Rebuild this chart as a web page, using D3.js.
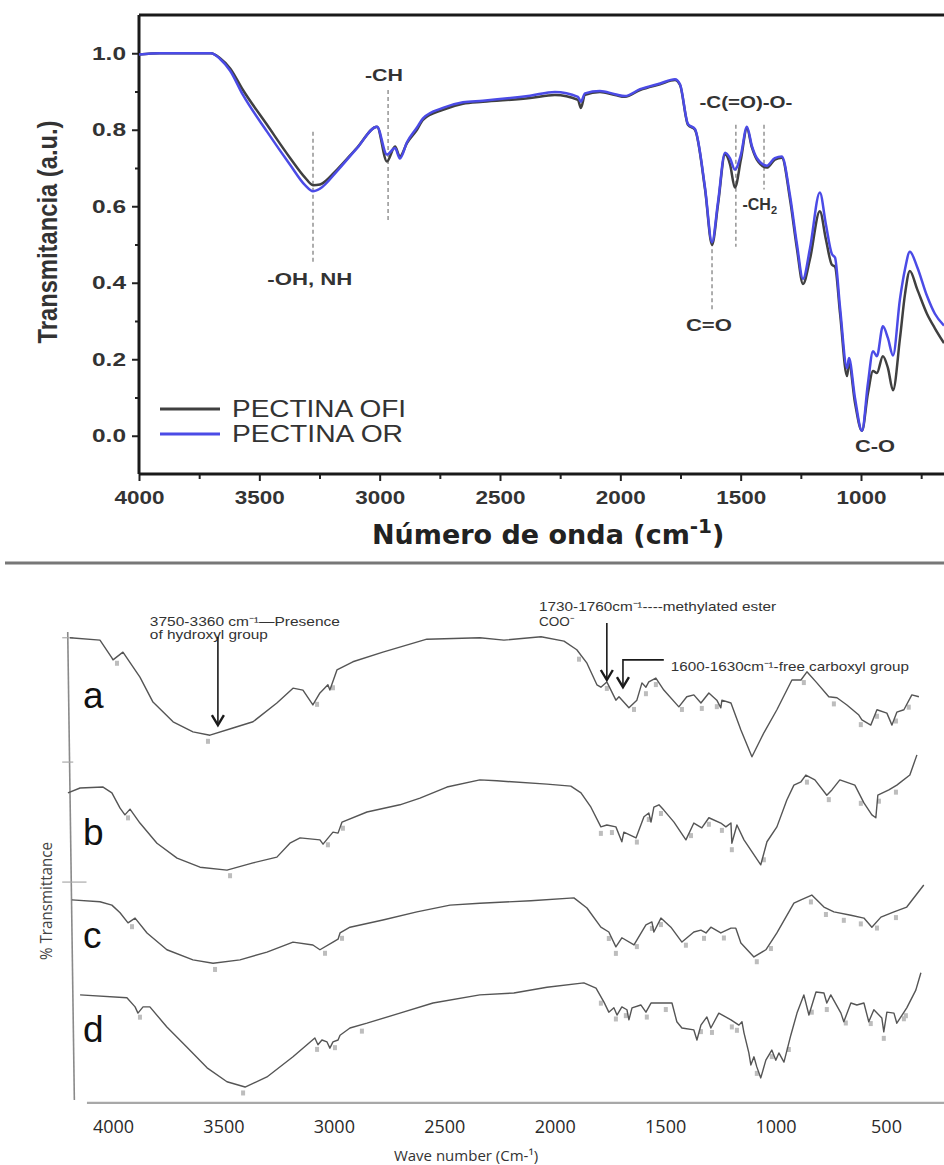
<!DOCTYPE html>
<html>
<head>
<meta charset="utf-8">
<script src="https://cdn.jsdelivr.net/npm/d3@7"></script>
<style>
  body { margin: 0; background: #fff; }
  svg { display: block; }
</style>
</head>
<body>
<div id="chart"></div>
<script>
/**********************/
/******* data         */
/**********************/

// top panel: [wavenumber cm-1, transmittance a.u.]
const pectinaOFI = [[4000,0.997],[3913,1.0],[3701,1.0],[3663,0.987],[3622,0.961],[3568,0.904],[3468,0.813],[3373,0.727],[3310,0.675],[3277,0.655],[3248,0.657],[3177,0.696],[3094,0.753],[3011,0.808],[2970,0.717],[2936,0.756],[2916,0.730],[2886,0.766],[2845,0.800],[2820,0.826],[2737,0.852],[2654,0.868],[2571,0.873],[2375,0.883],[2272,0.891],[2176,0.878],[2164,0.857],[2147,0.891],[2085,0.899],[2022,0.891],[1981,0.886],[1918,0.904],[1835,0.919],[1773,0.930],[1752,0.917],[1719,0.813],[1690,0.800],[1648,0.644],[1619,0.499],[1594,0.605],[1565,0.735],[1544,0.709],[1524,0.649],[1499,0.722],[1474,0.803],[1453,0.753],[1433,0.722],[1391,0.701],[1358,0.722],[1329,0.727],[1295,0.618],[1266,0.488],[1241,0.397],[1212,0.462],[1171,0.587],[1146,0.514],[1121,0.447],[1108,0.442],[1087,0.319],[1058,0.156],[1050,0.190],[1025,0.086],[996,0.013],[971,0.112],[950,0.169],[934,0.164],[909,0.208],[888,0.177],[867,0.119],[838,0.255],[817,0.371],[797,0.431],[767,0.384],[726,0.319],[693,0.281],[655,0.242]];

const pectinaOR = [[4000,0.997],[3913,1.0],[3701,1.0],[3663,0.985],[3622,0.955],[3568,0.891],[3468,0.795],[3373,0.709],[3310,0.655],[3277,0.639],[3248,0.646],[3177,0.692],[3094,0.752],[3011,0.808],[2970,0.735],[2936,0.752],[2916,0.725],[2886,0.768],[2845,0.806],[2820,0.830],[2737,0.857],[2654,0.872],[2571,0.876],[2375,0.889],[2272,0.899],[2176,0.886],[2164,0.873],[2147,0.895],[2085,0.901],[2022,0.893],[1981,0.888],[1918,0.906],[1835,0.921],[1773,0.932],[1752,0.919],[1719,0.815],[1690,0.802],[1648,0.648],[1619,0.506],[1594,0.612],[1565,0.740],[1544,0.725],[1524,0.696],[1499,0.735],[1474,0.808],[1453,0.757],[1433,0.726],[1391,0.706],[1358,0.726],[1329,0.730],[1295,0.628],[1266,0.500],[1241,0.410],[1212,0.490],[1171,0.636],[1146,0.553],[1121,0.475],[1108,0.466],[1087,0.335],[1058,0.177],[1050,0.203],[1025,0.099],[996,0.013],[971,0.138],[950,0.221],[934,0.208],[909,0.286],[888,0.255],[867,0.210],[838,0.358],[817,0.436],[797,0.481],[767,0.442],[726,0.366],[693,0.319],[655,0.288]];

const topSeries = ["PECTINA OFI", "PECTINA OR"];
const topColors = ["#404040", "#4b4be6"];
const topXTicks = [4000, 3500, 3000, 2500, 2000, 1500, 1000];
const topXMinor = [3750, 3250, 2750, 2250, 1750, 1250, 750];
const topYTicks = [0.0, 0.2, 0.4, 0.6, 0.8, 1.0];
const topYMinor = [0.1, 0.3, 0.5, 0.7, 0.9];

// band assignments: dashed guide [wn, from, to] and its label [wn, value]
const topGuides = [[3277, 0.795, 0.455], [2965, 0.904, 0.558], [1619, 0.506, 0.325], [1520, 0.813, 0.494], [1403, 0.813, 0.644]];
const topLabels = [
    { text: "-OH, NH", wn: 3290, v: 0.395, w: 85 },
    { text: "-CH", wn: 2982, v: 0.927, w: 38 },
    { text: "-C(=O)-O-", wn: 1478, v: 0.857, w: 93 },
    { text: "-CH", sub: "2", wn: 1399, v: 0.590, w: 45 },
    { text: "C=O", wn: 1632, v: 0.275, w: 46 },
    { text: "C-O", wn: 942, v: -0.042, w: 40 }
];

// bottom panel: stacked spectra [wavenumber, % transmittance (offset stack)]
const traceA = [[4195,96.3],[4059,95.8],[4005,92.1],[4000,91.7],[3955,93.3],[3878,88.1],[3819,82.9],[3728,78.8],[3638,76.7],[3561,76.0],[3457,77.5],[3366,78.8],[3258,82.7],[3185,85.8],[3140,85.4],[3095,82.3],[3063,84.8],[3027,86.5],[3018,85.4],[2986,89.6],[2914,91.3],[2778,93.3],[2579,96.0],[2339,96.3],[2230,95.8],[2062,96.5],[1958,95.6],[1900,93.8],[1854,91.0],[1809,86.5],[1791,86.0],[1764,87.1],[1723,83.3],[1709,84.0],[1664,81.7],[1628,83.3],[1605,86.9],[1587,86.0],[1574,87.1],[1542,87.9],[1506,85.4],[1438,81.9],[1402,84.0],[1370,84.4],[1338,82.7],[1302,84.8],[1266,83.3],[1248,81.7],[1243,83.3],[1202,82.7],[1157,77.1],[1107,71.5],[1053,76.5],[994,81.3],[926,87.5],[885,87.5],[858,89.2],[813,86.9],[759,84.0],[722,83.8],[677,82.3],[623,80.2],[609,79.2],[569,78.1],[541,81.3],[496,80.6],[473,78.1],[451,80.8],[419,81.3],[383,84.4],[351,84.0]];

const traceB = [[4204,64.0],[4149,65.0],[4045,65.2],[4005,64.0],[3968,60.8],[3946,59.4],[3923,60.6],[3878,57.7],[3801,53.5],[3710,50.4],[3606,48.5],[3484,47.9],[3366,49.4],[3258,50.6],[3199,53.5],[3153,54.6],[3063,54.2],[3049,53.3],[3004,55.8],[2981,55.6],[2963,57.9],[2850,60.0],[2701,61.5],[2610,62.9],[2488,65.2],[2339,66.7],[2262,66.5],[2035,65.8],[1927,65.4],[1881,64.0],[1836,61.0],[1791,56.9],[1764,57.3],[1723,56.9],[1696,53.8],[1687,55.8],[1632,54.6],[1596,59.0],[1574,59.8],[1564,57.9],[1551,61.0],[1528,61.5],[1506,60.4],[1460,57.9],[1406,54.2],[1370,57.7],[1334,56.7],[1302,58.8],[1248,57.7],[1225,56.9],[1202,57.7],[1198,53.5],[1175,57.3],[1143,54.2],[1067,49.0],[1039,53.8],[994,56.9],[949,62.5],[917,65.6],[885,66.3],[863,67.7],[822,66.7],[768,63.5],[745,64.6],[709,66.7],[641,65.6],[600,61.9],[564,59.4],[546,58.8],[537,63.5],[487,64.6],[451,65.6],[392,67.7],[360,71.9]];

const traceC = [[4186,41.7],[4059,41.3],[4005,40.6],[3968,39.0],[3932,36.9],[3900,37.9],[3846,34.8],[3756,31.3],[3638,29.2],[3547,28.5],[3425,29.2],[3303,30.8],[3185,32.9],[3095,32.3],[3063,31.3],[3004,32.9],[2981,33.5],[2972,34.8],[2927,36.0],[2778,37.5],[2624,39.2],[2474,40.6],[2339,41.0],[2108,41.5],[1913,42.1],[1854,40.0],[1791,36.0],[1755,35.0],[1723,31.9],[1696,33.8],[1641,32.3],[1587,36.5],[1560,37.1],[1551,35.0],[1519,37.9],[1474,36.0],[1424,32.9],[1370,35.0],[1338,35.4],[1315,34.8],[1293,36.0],[1248,34.8],[1202,35.8],[1180,35.8],[1157,32.7],[1098,29.8],[1044,31.3],[994,34.8],[917,41.0],[885,41.7],[836,42.7],[781,40.2],[736,39.2],[659,38.5],[600,37.9],[564,36.0],[523,38.1],[464,39.2],[406,40.2],[329,44.8]];

const traceD = [[4149,21.9],[3937,21.3],[3900,19.4],[3887,18.1],[3864,19.4],[3833,19.4],[3756,15.2],[3665,11.0],[3574,6.7],[3484,3.8],[3402,2.7],[3303,4.8],[3185,9.0],[3086,12.9],[3072,11.5],[3054,12.5],[3031,12.1],[3018,10.8],[3004,12.1],[2981,12.5],[2972,13.5],[2927,15.0],[2850,16.0],[2701,18.1],[2551,20.2],[2339,21.9],[2185,22.3],[2035,23.5],[1868,24.4],[1813,23.3],[1777,20.4],[1755,18.3],[1732,19.2],[1718,17.7],[1696,19.4],[1673,18.8],[1664,16.7],[1650,19.2],[1610,19.8],[1587,18.3],[1564,20.2],[1469,20.2],[1447,16.3],[1424,15.0],[1370,14.6],[1356,12.5],[1338,15.6],[1311,17.3],[1293,15.0],[1257,18.1],[1202,16.7],[1166,15.6],[1152,16.3],[1143,14.0],[1121,9.8],[1112,7.3],[1098,9.0],[1085,6.9],[1067,4.6],[1044,8.3],[1017,10.4],[999,8.3],[985,9.8],[962,7.9],[931,13.5],[903,18.1],[872,21.9],[849,17.7],[817,22.5],[781,22.3],[768,20.2],[750,21.9],[704,18.1],[691,16.3],[659,20.2],[632,19.8],[600,20.2],[578,16.3],[555,18.8],[519,17.1],[510,14.2],[496,18.3],[464,18.1],[451,16.0],[406,19.2],[365,22.9],[342,26.5]];

const traceNames = ["a", "b", "c", "d"];
// peak-pick labels (wavenumbers) printed under each trace
const peaksA = [3982, 3570, 3076, 3004, 1890, 1764, 1641, 1587, 1542, 1424, 1334, 1266, 872, 736, 614, 541, 455, 397];
const peaksB = [3932, 3470, 3027, 2959, 1791, 1741, 1628, 1574, 1519, 1383, 1302, 1243, 1198, 1053, 858, 759, 614, 532, 455];
const peaksC = [3914, 3538, 3040, 2963, 1755, 1723, 1628, 1560, 1519, 1406, 1324, 1234, 1085, 1021, 840, 772, 691, 614, 541, 455];
const peaksD = [3878, 3411, 3076, 2995, 2873, 1791, 1723, 1678, 1583, 1497, 1338, 1288, 1175, 1198, 1085, 1017, 940, 836, 768, 682, 569, 510, 419, 410];
const bottomXTicks = [4000, 3500, 3000, 2500, 2000, 1500, 1000, 500];

/**********************/
/******* d3           */
/**********************/

const svg = d3.select("#chart")
    .append("svg")
    .attr("width", 944)
    .attr("height", 1165)
    .style("font-family", "'Liberation Sans', Arial, sans-serif");

// ---------- top panel ----------
const xT = d3.scaleLinear().domain([4000, 1000]).range([139, 861]);
const yT = d3.scaleLinear().domain([-0.1, 1.1]).range([474, 15]);

svg.append("clipPath").attr("id", "clipTop")
    .append("rect").attr("x", 139).attr("y", 15).attr("width", 805).attr("height", 459);

// minor ticks
svg.append("g")
    .attr("transform", `translate(0, ${yT(-0.1)})`)
    .call(d3.axisBottom(xT).tickValues(topXMinor).tickSize(5).tickFormat(""))
    .call(g => g.select(".domain").remove())
    .selectAll("line").attr("stroke", "#222").attr("stroke-width", 2);

svg.append("g")
    .attr("transform", `translate(${xT(4000)}, 0)`)
    .call(d3.axisLeft(yT).tickValues(topYMinor).tickSize(4).tickFormat(""))
    .call(g => g.select(".domain").remove())
    .selectAll("line").attr("stroke", "#222").attr("stroke-width", 2);

// major ticks + labels
const xAxisT = svg.append("g")
    .attr("transform", `translate(0, ${yT(-0.1)})`)
    .call(d3.axisBottom(xT).tickValues(topXTicks).tickSize(7).tickPadding(10).tickFormat(d3.format("d")));
xAxisT.select(".domain").remove();
xAxisT.selectAll("line").attr("stroke", "#222").attr("stroke-width", 2);
xAxisT.selectAll("text")
    .attr("fill", "#333").style("font-size", "19px").style("font-weight", "bold")
    .attr("textLength", 50).attr("lengthAdjust", "spacingAndGlyphs");

const yAxisT = svg.append("g")
    .attr("transform", `translate(${xT(4000)}, 0)`)
    .call(d3.axisLeft(yT).tickValues(topYTicks).tickSize(7).tickPadding(6).tickFormat(d3.format(".1f")));
yAxisT.select(".domain").remove();
yAxisT.selectAll("line").attr("stroke", "#222").attr("stroke-width", 2);
yAxisT.selectAll("text")
    .attr("fill", "#333").style("font-size", "18px").style("font-weight", "bold")
    .attr("textLength", 34).attr("lengthAdjust", "spacingAndGlyphs");

// frame (left, top, bottom)
const frame = svg.append("g").attr("stroke", "#1a1a1a").attr("stroke-width", 3).attr("fill", "none");
frame.append("line").attr("x1", xT(4000)).attr("x2", xT(4000)).attr("y1", yT(1.1)).attr("y2", yT(-0.1));
frame.append("line").attr("x1", xT(4000)).attr("x2", 944).attr("y1", yT(1.1)).attr("y2", yT(1.1));
frame.append("line").attr("x1", xT(4000)).attr("x2", 944).attr("y1", yT(-0.1)).attr("y2", yT(-0.1));

// dashed band guides
svg.append("g").selectAll("line")
    .data(topGuides)
    .join("line")
    .attr("x1", d => xT(d[0])).attr("x2", d => xT(d[0]))
    .attr("y1", d => yT(d[1])).attr("y2", d => yT(d[2]))
    .attr("stroke", "#9a9a9a").attr("stroke-width", 1.6).attr("stroke-dasharray", "4,3");

// spectra
const lineT = d3.line().x(d => xT(d[0])).y(d => yT(d[1])).curve(d3.curveMonotoneX);
[pectinaOFI, pectinaOR].forEach((s, i) => {
    svg.append("path")
        .datum(s)
        .attr("clip-path", "url(#clipTop)")
        .attr("fill", "none")
        .attr("stroke", topColors[i])
        .attr("stroke-width", 2.5)
        .attr("stroke-linejoin", "round")
        .attr("d", lineT);
});

// band labels
const tl = svg.append("g").selectAll("text")
    .data(topLabels)
    .join("text")
    .attr("x", d => xT(d.wn) - d.w / 2)
    .attr("y", d => yT(d.v))
    .attr("fill", "#333")
    .style("font-size", "16px").style("font-weight", "bold");
tl.append("tspan").text(d => d.text);
tl.filter(d => d.sub).append("tspan")
    .attr("dy", 4).style("font-size", "11px").text(d => d.sub);
tl.filter(d => !d.sub).attr("textLength", d => d.w).attr("lengthAdjust", "spacingAndGlyphs");

// legend
const legend = svg.append("g");
topSeries.forEach((name, i) => {
    const yy = yT(0.07) + i * 25;
    legend.append("line")
        .attr("x1", 160).attr("x2", 220).attr("y1", yy).attr("y2", yy)
        .attr("stroke", topColors[i]).attr("stroke-width", 3);
    legend.append("text")
        .attr("x", 232).attr("y", yy + 8)
        .attr("fill", "#333").style("font-size", "23px")
        .attr("textLength", i === 0 ? 174 : 171).attr("lengthAdjust", "spacingAndGlyphs")
        .text(name);
});

// axis titles
svg.append("text")
    .attr("transform", "translate(57, 232) rotate(-90)")
    .attr("text-anchor", "middle")
    .attr("fill", "#333").style("font-size", "27px").style("font-weight", "bold")
    .attr("textLength", 223).attr("lengthAdjust", "spacingAndGlyphs")
    .text("Transmitancia (a.u.)");

const xt = svg.append("text")
    .attr("x", 372).attr("y", 544)
    .attr("fill", "#222").style("font-size", "27px").style("font-weight", "bold")
    .style("font-family", "'DejaVu Sans', sans-serif");
xt.append("tspan").text("Número de onda (cm");
xt.append("tspan").attr("dy", -11).style("font-size", "20px").text("-1");
xt.append("tspan").attr("dy", 11).text(")");

// separator between the two figures
svg.append("line")
    .attr("x1", 5).attr("x2", 944).attr("y1", 563).attr("y2", 563)
    .attr("stroke", "#777").attr("stroke-width", 3);

// ---------- bottom panel ----------
const xB = d3.scaleLinear().domain([4000, 500]).range([113, 886]);
const yB = d3.scaleLinear().domain([0, 100]).range([1100, 620]);

// left axis line with a few ticks
svg.append("line")
    .attr("x1", xB(4205)).attr("x2", xB(4175))
    .attr("y1", yB(97.5)).attr("y2", yB(0))
    .attr("stroke", "#8a8a8a").attr("stroke-width", 1.6);
[96.3, 70.4, 45.4].forEach((v, i) => {
    svg.append("line")
        .attr("x1", xB(4230)).attr("x2", xB(i === 2 ? 4120 : 4180))
        .attr("y1", yB(v)).attr("y2", yB(v))
        .attr("stroke", "#aaa").attr("stroke-width", 1.2);
});

// bottom axis
svg.append("line")
    .attr("x1", xB(4118)).attr("x2", 944)
    .attr("y1", yB(-0.6)).attr("y2", yB(-0.6))
    .attr("stroke", "#a8a8a8").attr("stroke-width", 2.2);

const xAxisB = svg.append("g")
    .attr("transform", `translate(0, ${yB(-0.6)})`)
    .call(d3.axisBottom(xB).tickValues(bottomXTicks).tickSize(0).tickPadding(17).tickFormat(d3.format("d")));
xAxisB.select(".domain").remove();
xAxisB.selectAll("text")
    .attr("fill", "#2a2a2a").style("font-size", "18px")
    .style("font-family", "'Open Sans', sans-serif");

svg.append("text")
    .attr("x", 466).attr("y", 1161)
    .attr("text-anchor", "middle")
    .attr("fill", "#333").style("font-size", "15px")
    .style("font-family", "'Open Sans', sans-serif")
    .text("Wave number (Cm-¹)");

svg.append("text")
    .attr("transform", "translate(52, 901) rotate(-90)")
    .attr("text-anchor", "middle")
    .attr("fill", "#444").style("font-size", "16px")
    .style("font-family", "'Open Sans', sans-serif")
    .attr("textLength", 118).attr("lengthAdjust", "spacingAndGlyphs")
    .text("% Transmittance");

// traces
const traces = [traceA, traceB, traceC, traceD];
const peaks = [peaksA, peaksB, peaksC, peaksD];
const lineB = d3.line().x(d => xB(d[0])).y(d => yB(d[1]));

function valueAt(trace, wn) {
    for (let i = 0; i < trace.length - 1; i++) {
        const [w0, v0] = trace[i], [w1, v1] = trace[i + 1];
        if (wn <= w0 && wn >= w1) return v0 + (v1 - v0) * (wn - w0) / (w1 - w0);
    }
    return trace[trace.length - 1][1];
}

traces.forEach((t, i) => {
    // peak-pick labels
    svg.append("g").selectAll("rect")
        .data(peaks[i])
        .join("rect")
        .attr("x", d => xB(d) - 2)
        .attr("y", d => yB(valueAt(t, d)) + 4)
        .attr("width", 4).attr("height", 5)
        .attr("fill", "#bdbdbd");

    svg.append("path")
        .datum(t)
        .attr("fill", "none")
        .attr("stroke", "#555")
        .attr("stroke-width", 1.4)
        .attr("stroke-linejoin", "round")
        .attr("d", lineB);
});

// trace letters
const letterVals = [81.7, 53.1, 31.7, 12.1];
traceNames.forEach((n, i) => {
    svg.append("text")
        .attr("x", xB(4136)).attr("y", yB(letterVals[i]))
        .attr("fill", "#111").style("font-size", "37px")
        .text(n);
});

// annotations on trace a
const ann = svg.append("g").attr("fill", "#333").style("font-size", "13px");
ann.append("text").attr("x", xB(3833)).attr("y", yB(98.75))
    .attr("textLength", 190).attr("lengthAdjust", "spacingAndGlyphs")
    .text("3750-3360 cm⁻¹—Presence");
ann.append("text").attr("x", xB(3833)).attr("y", yB(96.0))
    .attr("textLength", 118).attr("lengthAdjust", "spacingAndGlyphs")
    .text("of hydroxyl group");
ann.append("text").attr("x", xB(2071)).attr("y", yB(101.9))
    .attr("textLength", 237).attr("lengthAdjust", "spacingAndGlyphs")
    .text("1730-1760cm⁻¹----methylated ester");
ann.append("text").attr("x", xB(2071)).attr("y", yB(98.75))
    .attr("textLength", 35).attr("lengthAdjust", "spacingAndGlyphs")
    .text("COO⁻");
ann.append("text").attr("x", xB(1474)).attr("y", yB(89.4))
    .attr("textLength", 238).attr("lengthAdjust", "spacingAndGlyphs")
    .text("1600-1630cm⁻¹-free carboxyl group");

// arrows: list of [wn, value] vertices, head at the last one
const arrows = [
    [[3525, 96.5], [3525, 78.1]],
    [[1764, 99.4], [1764, 87.5]],
    [[1506, 91.7], [1691, 91.7], [1691, 86.0]]
];
arrows.forEach(a => {
    const pts = a.map(p => [xB(p[0]), yB(p[1])]);
    svg.append("path")
        .attr("d", d3.line()(pts))
        .attr("fill", "none").attr("stroke", "#1a1a1a").attr("stroke-width", 1.6);
    const [tx, ty] = pts[pts.length - 1];
    svg.append("path")
        .attr("d", d3.line()([[tx - 6, ty - 10], [tx, ty], [tx + 6, ty - 10]]))
        .attr("fill", "none").attr("stroke", "#1a1a1a").attr("stroke-width", 2.4);
});
</script>
</body>
</html>
